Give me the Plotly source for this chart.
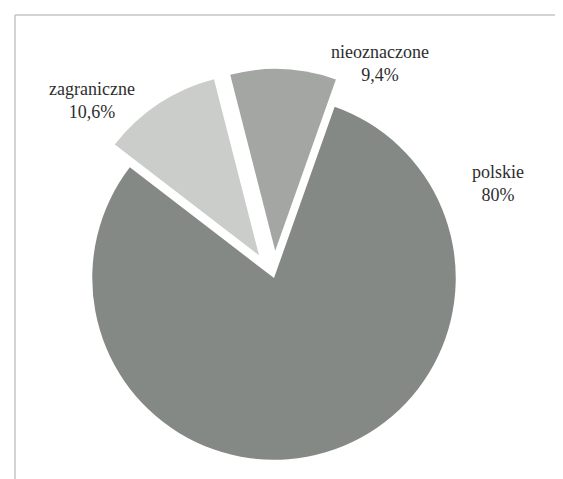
import plotly.graph_objects as go

# shares of the three groups (percent)
labels = ["polskie", "zagraniczne", "nieoznaczone"]
values = [80, 10.6, 9.4]
colors = ["#848985", "#cbcdca", "#a3a6a3"]
pulls = [0, 0.15, 0.15]

W, H = 563, 479

fig = go.Figure()
fig.add_trace(go.Pie(
    labels=labels,
    values=values,
    sort=False,
    direction="clockwise",
    rotation=19.5,
    pull=pulls,
    marker=dict(colors=colors, line=dict(width=0)),
    textinfo="none",
    hoverinfo="label+percent",
    showlegend=False,
    domain=dict(x=[55 / W, 477 / W], y=[0, 418 / H]),
))

# label positions in pixels (centre of the two-line label)
label_pos = {"polskie": (490, 176), "zagraniczne": (84, 92), "nieoznaczone": (372, 56)}
for lab, val in zip(labels, values):
    txt = f"{val:g}".replace(".", ",") + "%"
    x, y = label_pos[lab]
    fig.add_annotation(
        x=x / W, y=1 - y / H, xref="paper", yref="paper",
        text=f"{lab}<br>{txt}", showarrow=False,
        font=dict(family="Liberation Serif", size=18, color="#2e2e2e"),
        align="center", xanchor="center", yanchor="middle",
    )

# thin frame of the scanned figure (top and left edges)
frame = dict(color="#c4c4c4", width=1.5)
fig.add_shape(type="line", xref="paper", yref="paper",
              x0=7 / W, x1=1, y0=1 - 7 / H, y1=1 - 7 / H, line=frame)
fig.add_shape(type="line", xref="paper", yref="paper",
              x0=7 / W, x1=7 / W, y0=0, y1=1 - 7 / H, line=frame)

fig.update_layout(
    width=W, height=H,
    margin=dict(l=0, r=0, t=0, b=0),
    paper_bgcolor="white",
    plot_bgcolor="white",
)

fig.write_html("out.html")
